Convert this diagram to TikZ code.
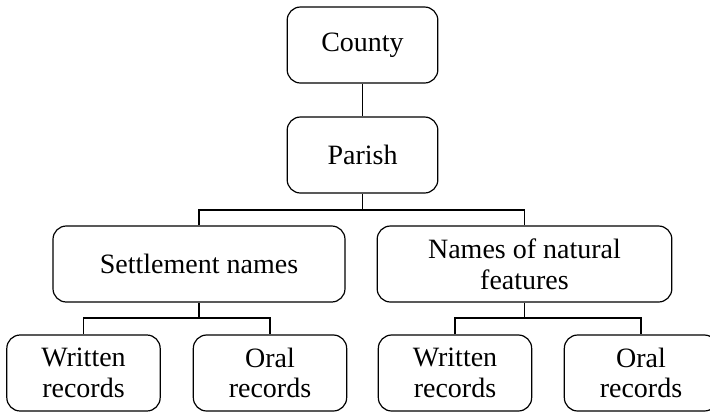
\documentclass[tikz,border=0pt]{standalone}
\usepackage{fontspec}
\setmainfont{Liberation Serif}
\tikzset{
  box/.style={draw, rounded corners=10pt, line width=0.9pt, inner sep=0pt,
    minimum height=57pt, align=center, font=\fontsize{21}{23}\selectfont},
  link/.style={line width=0.9pt}
}
\begin{document}
\begin{tikzpicture}[x=0.75pt, y=-0.75pt]
  \useasboundingbox (0,0) rectangle (710,412);

  % Top levels
  \node [box, minimum width=113pt] (county) at (362.5,45) {County};
  \node [box, minimum width=113pt] (parish) at (362.5,155) {Parish};

  % Middle level
  \node [box, minimum width=219pt] (settle) at (199,264) {Settlement names};
  \node [box, minimum width=221pt] (natural) at (524.5,264) {Names of natural\\features};

  % Bottom level
  \node [box, minimum width=115pt] (swritten) at (83.5,373) {Written\\records};
  \node [box, minimum width=115pt] (soral) at (270,373) {Oral\\records};
  \node [box, minimum width=115pt] (nwritten) at (455,373) {Written\\records};
  \node [box, minimum width=115pt] (noral) at (641,373) {Oral\\records};

  % Branch points
  \coordinate (pbus) at (362.5,210);
  \coordinate (sbus) at (199,318);
  \coordinate (nbus) at (524.5,318);

  % Connectors
  \draw [link] (county) -- (parish);
  \draw [link] (parish) -- (pbus);
  \draw [link] (settle.north) |- (pbus) -| (natural.north);
  \draw [link] (settle) -- (sbus);
  \draw [link] (swritten.north) |- (sbus) -| (soral.north);
  \draw [link] (natural) -- (nbus);
  \draw [link] (nwritten.north) |- (nbus) -| (noral.north);
\end{tikzpicture}
\end{document}
